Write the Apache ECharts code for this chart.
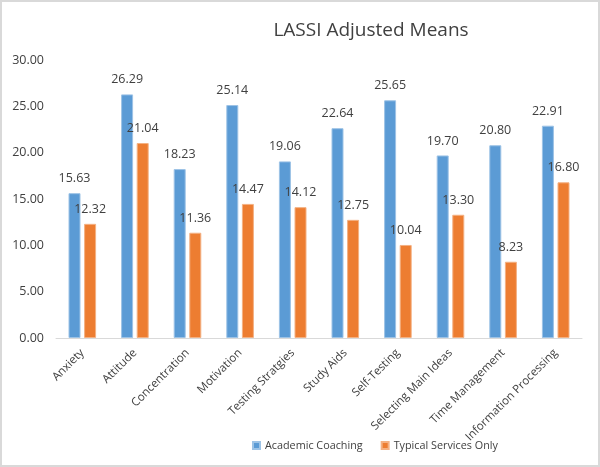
<!DOCTYPE html>
<html>
<head>
<meta charset="utf-8">
<script src="https://cdn.jsdelivr.net/npm/echarts@6/dist/echarts.min.js"></script>
<style>
html,body{margin:0;padding:0;background:#fff;}
#chart{width:596px;height:463px;border:2px solid #d9d9d9;}
</style>
</head>
<body>
<div id="chart"></div>
<script>
var categories = ['Anxiety','Attitude','Concentration','Motivation','Testing Stratgies','Study Aids','Self-Testing','Selecting Main Ideas','Time Management','Information Processing'];
var coaching = [15.63,26.29,18.23,25.14,19.06,22.64,25.65,19.70,20.80,22.91];
var typical = [12.32,21.04,11.36,14.47,14.12,12.75,10.04,13.30,8.23,16.80];
var seriesNames = ['Academic Coaching','Typical Services Only'];

var chart = echarts.init(document.getElementById('chart'));
var fontFam = '"Open Sans", sans-serif';
var labelStyle = {
    show: true,
    position: 'top',
    distance: 8,
    color: '#404040',
    fontSize: 12.5,
    fontFamily: fontFam,
    formatter: function(p){ return p.value.toFixed(2); }
};
chart.setOption({
    animation: false,
    title: {
        text: 'LASSI Adjusted Means',
        left: 364,
        top: 14,
        textAlign: 'center',
        textStyle: {color: '#404040', fontSize: 19, fontWeight: 'normal', fontFamily: fontFam}
    },
    legend: {
        top: 433,
        left: 245,
        itemWidth: 7,
        itemHeight: 7,
        itemGap: 18,
        icon: 'rect',
        textStyle: {color: '#404040', fontSize: 10.8, fontFamily: fontFam},
        data: seriesNames
    },
    grid: {left: 54, right: 16, top: 58, bottom: 127},
    xAxis: {
        type: 'category',
        data: categories,
        axisLine: {lineStyle: {color: '#d9d9d9'}},
        axisTick: {show: false},
        axisLabel: {rotate: 45, interval: 0, color: '#404040', fontSize: 11.5, fontFamily: fontFam, margin: 13}
    },
    yAxis: {
        type: 'value',
        min: 0,
        max: 30,
        interval: 5,
        splitLine: {show: false},
        axisLine: {show: false},
        axisTick: {show: false},
        axisLabel: {color: '#404040', fontSize: 12.5, fontFamily: fontFam, margin: 12,
            formatter: function(v){ return v.toFixed(2); }}
    },
    series: [
        {
            name: seriesNames[0],
            type: 'bar',
            data: coaching,
            barWidth: 12,
            barGap: '30%',
            itemStyle: {color: '#5b9bd5', borderColor: '#9dc3e6', borderWidth: 1},
            label: labelStyle
        },
        {
            name: seriesNames[1],
            type: 'bar',
            data: typical,
            barWidth: 12,
            itemStyle: {color: '#ed7d31', borderColor: '#f4b183', borderWidth: 1},
            label: labelStyle
        }
    ]
});
</script>
</body>
</html>
